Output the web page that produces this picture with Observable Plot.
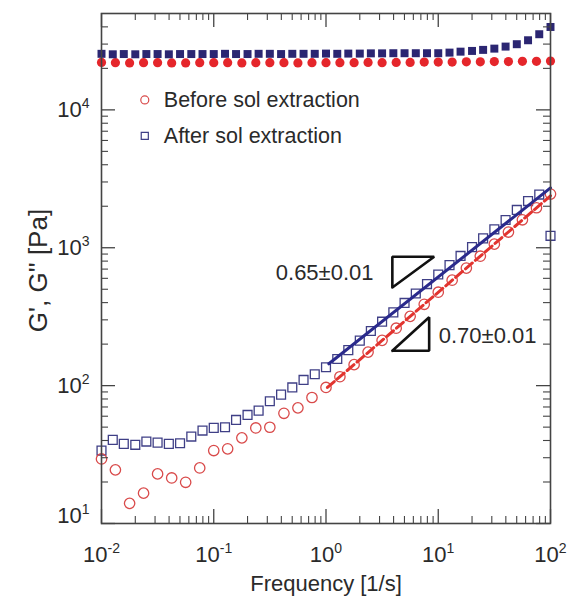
<!DOCTYPE html>
<html><head><meta charset="utf-8">
<script src="https://cdn.jsdelivr.net/npm/d3@7"></script>
<script src="https://cdn.jsdelivr.net/npm/@observablehq/plot@0.6"></script>
<style>
html,body{margin:0;padding:0;background:#fff;}
#chart{width:570px;height:606px;}
</style></head><body><div id="chart"></div>
<script>
// ---------- data ----------
// After sol extraction: frequencies [1/s]
const freqAfter = [0.01, 0.0126, 0.0158, 0.02, 0.0251, 0.0316, 0.0398, 0.0501, 0.0631, 0.0794,
  0.1, 0.126, 0.158, 0.2, 0.251, 0.316, 0.398, 0.501, 0.631, 0.794,
  1, 1.26, 1.58, 2, 2.51, 3.16, 3.98, 5.01, 6.31, 7.94,
  10, 12.6, 15.8, 20, 25.1, 31.6, 39.8, 50.1, 63.1, 79.4, 100];
// G' (filled squares)
const afterStorage = [25500, 25300, 25400, 25300, 25400, 25400, 25300, 25400, 25400, 25400,
  25400, 25500, 25400, 25400, 25500, 25500, 25400, 25500, 25500, 25500,
  25600, 25500, 25600, 25600, 25700, 25700, 25760, 25760, 25760, 25760,
  25760, 26020, 26440, 26760, 27230, 27810, 28770, 29940, 31980, 35370, 39930];
// G'' (open squares)
const afterLoss = [33.8, 40.4, 37.8, 37.2, 39.3, 38.6, 37.8, 38.2, 42.7, 47.2,
  49.4, 49.9, 56.4, 61.3, 65.9, 77, 86, 97, 110, 121,
  136, 156, 181, 212, 249, 291, 340, 398, 466, 545,
  640, 748, 872, 1010, 1170, 1360, 1590, 1880, 2180, 2430, 1220];

// Before sol extraction: frequencies [1/s]
const freqBefore = [0.01, 0.0133, 0.0178, 0.0237, 0.0316, 0.0422, 0.0562, 0.075,
  0.1, 0.133, 0.178, 0.237, 0.316, 0.422, 0.562, 0.75,
  1, 1.33, 1.78, 2.37, 3.16, 4.22, 5.62, 7.5,
  10, 13.3, 17.8, 23.7, 31.6, 42.2, 56.2, 75, 100];
// G' (filled circles)
const beforeStorage = [22100, 22000, 21900, 22000, 22000, 21900, 21900, 22000,
  22000, 22000, 21900, 22000, 22000, 22000, 21900, 22000,
  22000, 22000, 22000, 22100, 22000, 22100, 22100, 22200,
  22200, 22200, 22300, 22300, 22400, 22400, 22500, 22500, 22600];
// G'' (open circles)
const beforeLoss = [29.4, 24.5, 14.0, 16.6, 22.9, 21.4, 19.9, 25.3,
  33.8, 34.8, 41.8, 49.3, 49.9, 63.0, 69, 82,
  97, 116, 142, 175, 213, 261, 318, 389,
  476, 582, 712, 868, 1062, 1300, 1595, 1950, 2450];

// power-law fits (end points)
const fitAfterF = [1.06, 100], fitAfterG = [144, 2720];
const fitBeforeF = [1.03, 100], fitBeforeG = [97, 2380];

// slope triangles and their labels
const tri065F = [3.9, 3.9, 9.2, 3.9], tri065G = [515, 860, 860, 515];
const tri070F = [3.9, 8.3, 8.3, 3.9], tri070G = [179, 179, 313, 179];
const slopeLabels = ["0.65±0.01", "0.70±0.01"];
const slopeLabelF = [2.65, 10.1], slopeLabelG = [651, 230];

// legend
const legendLabels = ["Before sol extraction", "After sol extraction"];
const legendG = [11800, 6480];
const legendMarkF = 0.0243, legendTextF = 0.0359;

// axes
const xMajor = [0.01, 0.1, 1, 10, 100];
const xTickLabels = ["10^-2", "10^-1", "10^0", "10^1", "10^2"];
const yMajor = [10, 100, 1000, 10000];
const yTickLabels = ["10^1", "10^2", "10^3", "10^4"];
const xMinor = [], yMinor = [];
for (const d of [0.01, 0.1, 1, 10]) for (let k = 2; k <= 9; k++) xMinor.push(d * k);
for (const d of [10, 100, 1000, 10000]) for (let k = 2; k <= 9; k++) if (d * k < 50000) yMinor.push(d * k);

// ---------- build ----------
const after = freqAfter.map((f, i) => ({f, gs: afterStorage[i], gl: afterLoss[i]}));
const before = freqBefore.map((f, i) => ({f, gs: beforeStorage[i], gl: beforeLoss[i]}));
const fitA = fitAfterF.map((f, i) => ({f, g: fitAfterG[i]}));
const fitB = fitBeforeF.map((f, i) => ({f, g: fitBeforeG[i]}));
const tri1 = tri065F.map((f, i) => ({f, g: tri065G[i]}));
const tri2 = tri070F.map((f, i) => ({f, g: tri070G[i]}));

const W = 570, H = 606, ML = 101, MR = 20, MT = 13, MB = 83;
const FW = W - ML - MR, FH = H - MT - MB;
const MAJ = 14, MIN = 7;
const axisColor = "#444";
const textColor = "#2a2a2a";
const red = "#e5262b", redOpen = "#d94a4a", navy = "#2b2672", navyOpen = "#3f3f86";
const font = "'Liberation Sans', Arial, Helvetica, sans-serif";

const tickMarks = (vals, len, w) => [
  Plot.tickX(vals, {x: d => d, insetTop: FH - len, stroke: axisColor, strokeWidth: w}),
  Plot.tickX(vals, {x: d => d, insetBottom: FH - len, stroke: axisColor, strokeWidth: w})
];
const tickMarksY = (vals, len, w) => [
  Plot.tickY(vals, {y: d => d, insetRight: FW - len, stroke: axisColor, strokeWidth: w}),
  Plot.tickY(vals, {y: d => d, insetLeft: FW - len, stroke: axisColor, strokeWidth: w})
];

const chart = Plot.plot({
  width: W, height: H, marginLeft: ML, marginRight: MR, marginTop: MT, marginBottom: MB,
  x: {type: "log", domain: [0.01, 100]},
  y: {type: "log", domain: [10, 50000]},
  style: {fontFamily: font, background: "white", color: textColor, overflow: "visible"},
  marks: [
    // G' filled
    Plot.dot(before, {x: "f", y: "gs", r: 4.6, fill: red, stroke: "none"}),
    Plot.dot(after, {x: "f", y: "gs", symbol: "square", r: 4.5, fill: navy, stroke: "none"}),
    // G'' open
    Plot.dot(after, {x: "f", y: "gl", symbol: "square", r: 5, fill: "none", stroke: navyOpen, strokeWidth: 1.3}),
    Plot.dot(before, {x: "f", y: "gl", r: 5.2, fill: "none", stroke: redOpen, strokeWidth: 1.3}),
    // fits
    Plot.line(fitA, {x: "f", y: "g", stroke: "#2a2a8c", strokeWidth: 3}),
    Plot.line(fitB, {x: "f", y: "g", stroke: "#e2342f", strokeWidth: 3, strokeDasharray: "9,4"}),
    // slope triangles
    Plot.line(tri1, {x: "f", y: "g", stroke: "#111", strokeWidth: 2.6, strokeLinejoin: "miter"}),
    Plot.line(tri2, {x: "f", y: "g", stroke: "#111", strokeWidth: 2.6, strokeLinejoin: "miter"}),
    Plot.text([slopeLabels[0]], {x: () => slopeLabelF[0], y: () => slopeLabelG[0], text: d => d,
      textAnchor: "end", fontSize: 22, fill: textColor}),
    Plot.text([slopeLabels[1]], {x: () => slopeLabelF[1], y: () => slopeLabelG[1], text: d => d,
      textAnchor: "start", fontSize: 22, fill: textColor}),
    // legend
    Plot.dot([legendLabels[0]], {x: () => legendMarkF, y: () => legendG[0], r: 4, fill: "none", stroke: redOpen, strokeWidth: 1.2}),
    Plot.dot([legendLabels[1]], {x: () => legendMarkF, y: () => legendG[1], symbol: "square", r: 4, fill: "none", stroke: navyOpen, strokeWidth: 1.2}),
    Plot.text(legendLabels, {x: () => legendTextF, y: (d, i) => legendG[i], text: d => d, textAnchor: "start", fontSize: 21.5, fill: textColor}),
    // ticks (inside, mirrored)
    ...tickMarks(xMajor, MAJ, 1.3), ...tickMarks(xMinor, MIN, 1.1),
    ...tickMarksY(yMajor, MAJ, 1.3), ...tickMarksY(yMinor, MIN, 1.1),
    Plot.frame({stroke: axisColor, strokeWidth: 1.6}),
    // tick labels
    Plot.axisX(xMajor, {anchor: "bottom", tickSize: 0, tickPadding: 23, fontSize: 22, label: null,
      tickFormat: d => xTickLabels[xMajor.indexOf(d)]}),
    Plot.axisY(yMajor, {anchor: "left", tickSize: 0, tickPadding: 12, fontSize: 22, label: null,
      tickFormat: d => yTickLabels[yMajor.indexOf(d)]}),
    // axis titles
    Plot.text(["Frequency [1/s]"], {frameAnchor: "bottom", dy: 67, fontSize: 22, textAnchor: "middle", fill: textColor}),
    Plot.text(["G', G'' [Pa]"], {frameAnchor: "left", dx: -63, dy: 2, rotate: -90, textAnchor: "middle", fontSize: 26, fill: textColor})
  ]
});

// superscript exponents on tick labels
const ns = "http://www.w3.org/2000/svg";
chart.querySelectorAll('g[aria-label$="tick label"] text').forEach(t => {
  const s = t.textContent;
  if (!s.includes("^")) return;
  const [b, e] = s.split("^");
  t.textContent = "";
  const t1 = document.createElementNS(ns, "tspan"); t1.textContent = b;
  const t2 = document.createElementNS(ns, "tspan"); t2.textContent = e;
  t2.setAttribute("dy", "-9"); t2.setAttribute("font-size", "14");
  t.appendChild(t1); t.appendChild(t2);
  if (s === "10^1" && t.closest('g[aria-label="y-axis tick label"]')) {
    t.setAttribute("transform", (t.getAttribute("transform") || "") + " translate(0,-8)");
  }
});
document.getElementById("chart").appendChild(chart);
</script></body></html>
